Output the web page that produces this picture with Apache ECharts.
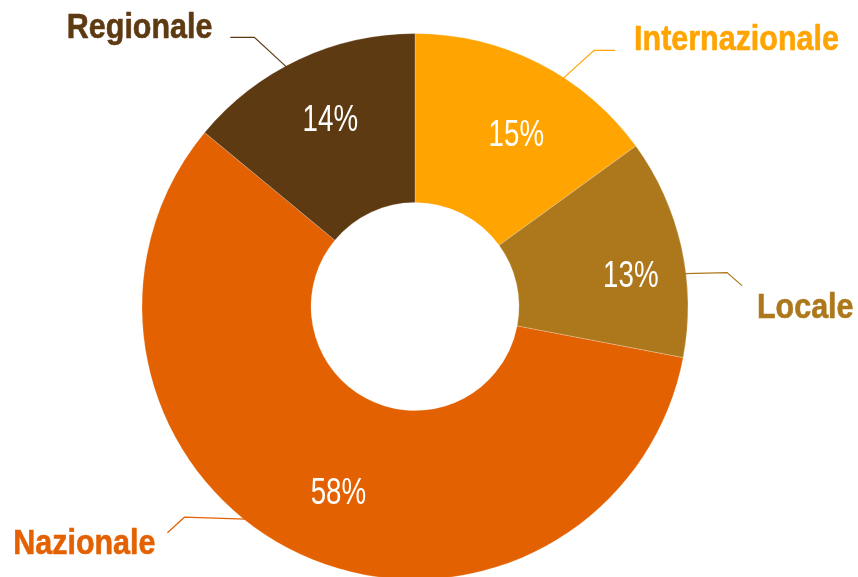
<!DOCTYPE html>
<html>
<head>
<meta charset="utf-8">
<script src="https://cdn.jsdelivr.net/npm/echarts@6/dist/echarts.min.js"></script>
<style>
  html, body { margin: 0; padding: 0; background: #ffffff; }
  #chart { width: 858px; height: 577px; }
</style>
</head>
<body>
<div id="chart"></div>
<script>
// Share of respondents by scope (percent)
const categories = ['Internazionale', 'Locale', 'Nazionale', 'Regionale'];
const shares = [15, 13, 58, 14];
const palette = ['#FFA400', '#AD781C', '#E36100', '#5E3A12'];

// Ring geometry (pixels)
const CENTER = [415, 306.5];
const R_OUT = 273;
const R_IN = 104;
const FONT = '"Liberation Sans", Arial, sans-serif';
const NARROW = 0.87;      // horizontal squeeze for the condensed look of the names
const NARROW_PCT = 0.77;  // and for the percentages

// Callout styling per slice: anchor point along the slice arc (fraction),
// elbow and tail offsets of the leader line, and text offset from the tail end.
const callouts = [
  { at: 0.611, bend: [31, -28],   tail: [21, 0],     text: [19, -10],   align: 'left'  },
  { at: 0.621, bend: [42, -1],    tail: [15, 13],    text: [15, 23],    align: 'left'  },
  { at: 0.564, bend: [-61, -2],   tail: [-17, 15.5], text: [-12, 11.5], align: 'right' },
  { at: 0.44,  bend: [-32, -29.5], tail: [-24, 0],   text: [-18, -9],   align: 'right' }
];
// Placement of the percentage text inside each slice
const percentSpots = [
  { at: 0.567, r: 199 },
  { at: 0.597, r: 218 },
  { at: 0.486, r: 202 },
  { at: 0.516, r: 205 }
];

function sliceAngles(i) {
  const total = shares.reduce((a, b) => a + b, 0);
  let start = 0;
  for (let k = 0; k < i; k++) start += shares[k];
  // degrees, clockwise from 12 o'clock
  return [start / total * 360, (start + shares[i]) / total * 360];
}
function polar(angleDeg, r) {
  const a = angleDeg * Math.PI / 180;
  return [CENTER[0] + r * Math.sin(a), CENTER[1] - r * Math.cos(a)];
}

// Leader lines, category names and percentages
const overlay = [];
categories.forEach((name, i) => {
  const c = callouts[i];
  const ang = sliceAngles(i);
  const p0 = polar(ang[0] + (ang[1] - ang[0]) * c.at, R_OUT - 1);
  const p1 = [p0[0] + c.bend[0], p0[1] + c.bend[1]];
  const p2 = [p1[0] + c.tail[0], p1[1] + c.tail[1]];
  overlay.push({
    type: 'polyline',
    silent: true,
    z: 10,
    shape: { points: [p0, p1, p2] },
    style: { stroke: palette[i], lineWidth: 1.2, fill: null }
  });
  overlay.push({
    type: 'text',
    silent: true,
    z: 10,
    x: p2[0] + c.text[0],
    y: p2[1] + c.text[1],
    scaleX: NARROW,
    style: {
      text: name,
      fill: palette[i],
      stroke: palette[i],
      lineWidth: 0.6,
      fontFamily: FONT,
      fontWeight: 'bold',
      fontSize: 35,
      textAlign: c.align,
      textVerticalAlign: 'middle'
    }
  });
  const s = percentSpots[i];
  const pt = polar(ang[0] + (ang[1] - ang[0]) * s.at, s.r);
  overlay.push({
    type: 'text',
    silent: true,
    z: 10,
    x: pt[0],
    y: pt[1] + 1,
    scaleX: NARROW_PCT,
    style: {
      text: shares[i] + '%',
      fill: '#ffffff',
      fontFamily: FONT,
      fontSize: 36,
      textAlign: 'center',
      textVerticalAlign: 'middle'
    }
  });
});

const chart = echarts.init(document.getElementById('chart'), null, { renderer: 'canvas' });
chart.setOption({
  backgroundColor: '#ffffff',
  animation: false,
  series: [
    {
      type: 'pie',
      center: CENTER,
      radius: [R_IN, R_OUT],
      startAngle: 90,
      clockwise: true,
      avoidLabelOverlap: false,
      itemStyle: { borderColor: 'rgba(255,255,255,0.45)', borderWidth: 0.5 },
      label: { show: false },
      labelLine: { show: false },
      emphasis: { disabled: true },
      data: categories.map((name, i) => ({
        name: name,
        value: shares[i],
        itemStyle: { color: palette[i] }
      }))
    }
  ],
  graphic: { elements: overlay }
});
</script>
</body>
</html>
